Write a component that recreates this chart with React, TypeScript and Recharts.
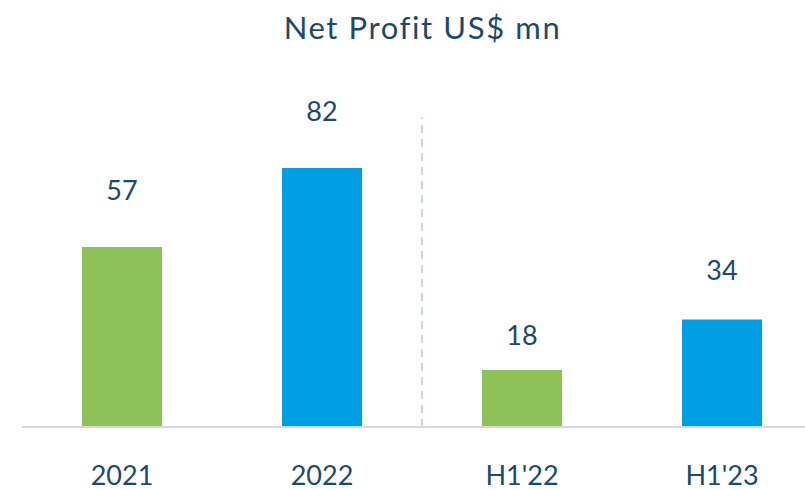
import { BarChart, Bar, XAxis, YAxis, Cell, LabelList, ReferenceLine } from 'recharts'

const PERIODS = ['2021', '2022', "H1'22", "H1'23"]
const NET_PROFIT = [57, 82, 18, 34]
const BAR_COLORS = ['#8cc257', '#009fe3', '#8cc257', '#009fe3']

const TEXT = '#1d4a6a'
const FONT = 'Lato, "Open Sans", sans-serif'
// gap between bar top and label centre, the source deck placed these by hand
const LABEL_GAP = [57, 57, 36, 50]

const data = PERIODS.map((p, i) => ({ period: p, value: NET_PROFIT[i], idx: i }))

function ValueLabel({ x, y, width, value, index }: any) {
  return (
    <text
      x={x + width / 2}
      y={y - LABEL_GAP[index]}
      textAnchor="middle"
      dominantBaseline="central"
      fontSize={27}
      fill={TEXT}
      fontFamily={FONT}
    >
      {value}
    </text>
  )
}

export default function App() {
  return (
    <div
      style={{
        position: 'absolute',
        left: 0,
        top: 0,
        width: 805,
        height: 490,
        overflow: 'hidden',
        background: '#fff',
        fontFamily: FONT,
      }}
    >
      <div
        style={{
          position: 'absolute',
          top: 8,
          left: 0,
          width: 845,
          textAlign: 'center',
          fontSize: 31,
          letterSpacing: 1.6,
          color: TEXT,
        }}
      >
        Net Profit US$ mn
      </div>
      <BarChart
        width={830}
        height={490}
        data={data}
        margin={{ top: 111, right: 8, bottom: 33, left: 22 }}
        barCategoryGap={60}
      >
        <XAxis
          dataKey="period"
          xAxisId={0}
          height={30}
          tickLine={false}
          axisLine={{ stroke: '#d9d9d9', strokeWidth: 2 }}
          tick={{ fontSize: 27, fill: TEXT, fontFamily: FONT }}
          tickMargin={33}
        />
        {/* numeric twin of the category axis, only used to place the divider between 2022 and H1'22 */}
        <XAxis
          xAxisId="num"
          dataKey="idx"
          type="number"
          domain={[-0.5, 3.5]}
          allowDataOverflow
          hide
        />
        <YAxis domain={[0, 100]} hide />
        <ReferenceLine
          xAxisId="num"
          segment={[
            { x: 1.5, y: 0 },
            { x: 1.5, y: 98 },
          ]}
          stroke="#c9d6ec"
          strokeWidth={2}
          strokeDasharray="8 6"
        />
        <Bar dataKey="value" isAnimationActive={false}>
          {data.map((d) => (
            <Cell key={d.period} fill={BAR_COLORS[d.idx]} />
          ))}
          <LabelList dataKey="value" content={<ValueLabel />} />
        </Bar>
      </BarChart>
    </div>
  )
}
